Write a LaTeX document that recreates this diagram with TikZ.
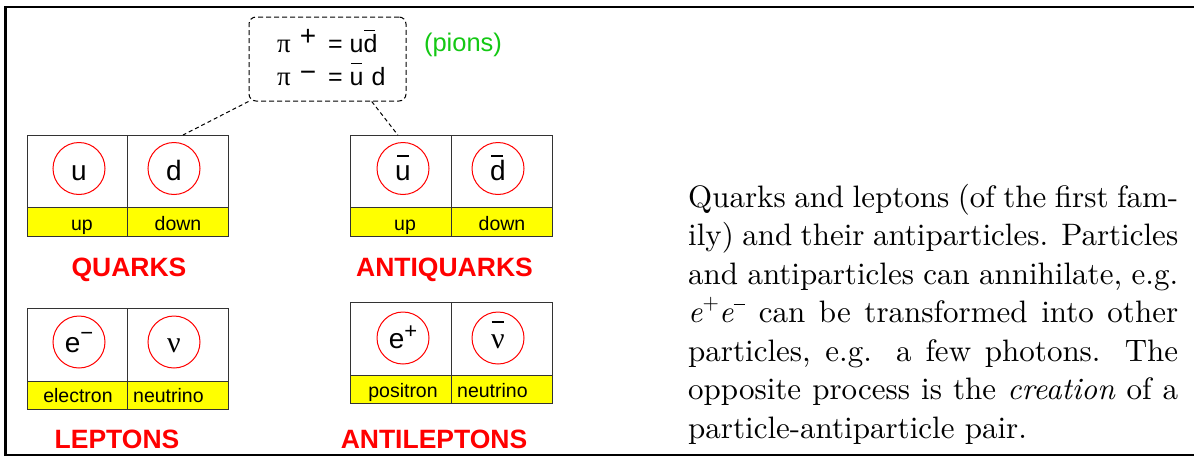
\documentclass[tikz,border=0pt]{standalone}
\usepackage{fontspec}
\usetikzlibrary{calc}
\newfontfamily\hv{Liberation Sans}
\newfontfamily\gr{Liberation Serif}
\newfontfamily\cmten{lmroman10-regular.otf}[ItalicFont=lmroman10-italic.otf]
\definecolor{pgreen}{RGB}{20,200,20}
\definecolor{pyellow}{RGB}{255,255,0}
\newcommand\ovb[2][0em]{\leavevmode\setbox0\hbox{#2}\rlap{\hbox to\wd0{\hss\kern#1\rule[0.83em]{0.42em}{0.06em}\hss}}\box0}
\newcommand\upsc[2][0.38em]{\raisebox{#1}{#2}}
\newcommand\txsup[1]{\raisebox{0.42em}{\fontsize{21}{21}\selectfont #1}}
\begin{document}
\begin{tikzpicture}[x=1pt,y=-1pt,
  cell/.style={draw=black!80,line width=1.3pt,minimum width=100.5pt,inner sep=0pt,anchor=north west},
  band/.style={cell,fill=pyellow},
  pc/.style={circle,draw=red,line width=1pt,minimum size=52pt,inner sep=0pt},
  plet/.style={anchor=base,inner sep=0pt,font=\hv\fontsize{28}{28}\selectfont},
  btxt/.style={anchor=base,inner sep=0pt,font=\hv\fontsize{19.5}{20}\selectfont},
  cat/.style={anchor=base,inner sep=0pt,text=red,font=\hv\bfseries\fontsize{26.5}{27}\selectfont},
  conn/.style={line width=1pt,dash pattern=on 4pt off 3pt},
  pitxt/.style={anchor=base west,inner sep=0pt,font=\hv\fontsize{25}{25}\selectfont}
]
\useasboundingbox (0,0) rectangle (1194,458);
\draw[line width=2.5pt] (1197,7) -- (5.5,7) -- (5.5,455) -- (1197,455);

% pion box
\node[draw,dash pattern=on 5pt off 3pt,line width=1pt,rounded corners=7pt,minimum width=157pt,minimum height=84pt] (pion) at (327.5,59) {};
\node[pitxt] (pi1) at (277,52) {{\gr\fontsize{27}{27}\selectfont π}\kern9pt\upsc[0.26em]{\fontsize{28}{28}\selectfont +}\kern12pt= u\ovb[-0.08em]{d}};
\node[pitxt] (pi2) at (277,85) {{\gr\fontsize{27}{27}\selectfont π}\kern9pt\upsc[0.15em]{\fontsize{28}{28}\selectfont −}\kern12pt= \ovb{u}\kern1pt\ d};
\node[anchor=base,inner sep=0pt,text=pgreen,font=\hv\fontsize{25.5}{26}\selectfont] (pions) at (463,51.5) {(pions)};

% quarks
\node[cell,minimum height=72pt] (qu) at (26.5,135) {};
\node[cell,minimum height=72pt] (qd) at (127,135) {};
\node[band,minimum height=29pt] (qub) at (26.5,207) {};
\node[band,minimum height=29pt] (qdb) at (127,207) {};
\node[pc] (cu) at (79,168.5) {};
\node[plet] (tu) at (79,180) {u};
\node[pc] (cd) at (174,168.5) {};
\node[plet] (td) at (174,180) {d};
\node[btxt] (lu) at (82,230) {up};
\node[btxt] (ld) at (178,230) {down};
\node[cat] (quarks) at (129,276.5) {QUARKS};

% antiquarks
\node[cell,minimum height=72pt] (au) at (350,135) {};
\node[cell,minimum height=72pt] (ad) at (451,135) {};
\node[band,minimum height=29pt] (aub) at (350,207) {};
\node[band,minimum height=29pt] (adb) at (451,207) {};
\node[pc] (cau) at (403,168.5) {};
\node[plet] (tau) at (403,180) {\ovb{u}};
\node[pc] (cad) at (498,168.5) {};
\node[plet] (tad) at (498,180) {\ovb[-0.08em]{d}};
\node[btxt] (lau) at (405,230) {up};
\node[btxt] (lad) at (502,230) {down};
\node[cat] (aquarks) at (444.5,276.5) {ANTIQUARKS};

% leptons
\node[cell,minimum height=73pt] (le) at (26.5,308) {};
\node[cell,minimum height=73pt] (ln) at (127,308) {};
\node[band,minimum height=28pt] (leb) at (26.5,381) {};
\node[band,minimum height=28pt] (lnb) at (127,381) {};
\node[pc] (ce) at (79,342) {};
\node[plet] (te) at (79,352) {e\upsc[0.42em]{\fontsize{22}{22}\selectfont −}};
\node[pc] (cn) at (174,342) {};
\node[plet] (tn) at (174,352) {\gr\fontsize{30}{30}\selectfont ν};
\node[btxt] (lel) at (78,402.5) {electron};
\node[btxt,anchor=base west] (lnl) at (133,402.5) {neutrino};
\node[cat] (leptons) at (117,448) {LEPTONS};

% antileptons
\node[cell,minimum height=73pt] (ae) at (350,302) {};
\node[cell,minimum height=73pt] (an) at (451,302) {};
\node[band,minimum height=28pt] (aeb) at (350,375) {};
\node[band,minimum height=28pt] (anb) at (451,375) {};
\node[pc] (cae) at (403,338) {};
\node[plet] (tae) at (403,348) {e\upsc[0.35em]{\fontsize{22}{22}\selectfont +}};
\node[pc] (can) at (498,338) {};
\node[plet] (tan) at (498,348) {\gr\fontsize{30}{30}\selectfont\ovb{ν}};
\node[btxt] (lae) at (403,397) {positron};
\node[btxt,anchor=base west] (lan) at (457,397) {neutrino};
\node[cat] (aleptons) at (434,448) {ANTILEPTONS};

% connectors
\coordinate (qdtop) at ($(qd.north west)!0.55!(qd.north east)$);
\coordinate (pb) at ($(pion.south west)!0.78!(pion.south east)$);
\coordinate (autop) at ($(au.north west)!0.47!(au.north east)$);
\draw[conn] (pion.south west) -- (qdtop);
\draw[conn] (pb) -- (autop);

% paragraph
\node[anchor=base west,inner sep=0pt,text width=490pt,align=justify,font=\cmten\fontsize{31}{38.5}\selectfont] (para) at (688,207) {Quarks and leptons (of the first fam-\linebreak ily) and their antiparticles. Particles\linebreak and antiparticles can annihilate, e.g.\linebreak \textit{e}\txsup{+}\textit{e}\txsup{\rule[0.22em]{0.55em}{0.05em}} can be transformed into other\linebreak particles, e.g. a few photons. The\linebreak opposite process is the \emph{creation} of a\linebreak particle-antiparticle pair.};
\end{tikzpicture}
\end{document}
